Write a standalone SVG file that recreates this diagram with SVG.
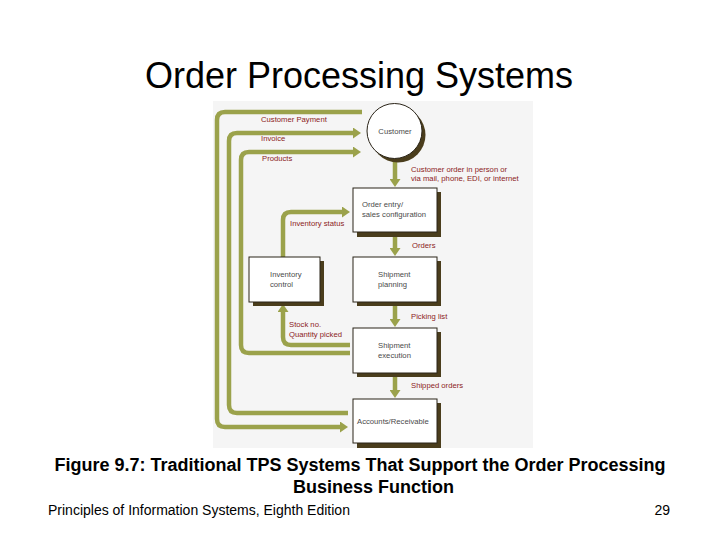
<svg xmlns="http://www.w3.org/2000/svg" width="720" height="540" viewBox="0 0 720 540">
<defs>
<marker id="ah" markerUnits="userSpaceOnUse" markerWidth="9" markerHeight="11" refX="1" refY="5.5" orient="auto">
<path d="M0,0 L8,5.5 L0,11 z" fill="#9ba24b"/>
</marker>
</defs>
<style>
.flow{fill:none;stroke:#9ba24b;stroke-width:4.5}
.arr{marker-end:url(#ah)}
.box{fill:#fff;stroke:#2a2418;stroke-width:1}
.shadow{fill:#4a3d1c}
.bt{font-family:"Liberation Sans",Arial,sans-serif;font-size:7.7px;fill:#4a4a4a}
.lb{font-family:"Liberation Sans",Arial,sans-serif;font-size:7.7px;fill:#8c1c1c}
</style>
<rect x="0" y="0" width="720" height="540" fill="#fff"/>
<text x="359" y="88" text-anchor="middle" font-family="'Liberation Sans',Arial,sans-serif" font-size="36" fill="#000">Order Processing Systems</text>
<rect x="213" y="101" width="320" height="347" fill="#f5f5f5"/>

<g id="connectors">
<path class="flow arr" d="M362 112 H225 Q217 112 217 120 V419 Q217 427 225 427 H341"/>
<path class="flow arr" d="M348 413 H237 Q229 413 229 405 V141 Q229 133 237 133 H354"/>
<path class="flow arr" d="M350 353 H249 Q241 353 241 345 V160 Q241 152 249 152 H354"/>
<path class="flow arr" d="M350 345 H291 Q283 345 283 337 V311"/>
<path class="flow arr" d="M283 257 V220 Q283 212 291 212 H343"/>
<path class="flow arr" d="M395 160 V180"/>
<path class="flow arr" d="M395 237 V249"/>
<path class="flow arr" d="M395 306 V320"/>
<path class="flow arr" d="M395 377 V391"/>
</g>

<g id="customer">
<circle cx="398" cy="135" r="27.5" class="shadow"/>
<circle cx="394.5" cy="131" r="27.5" fill="#fff" stroke="#2a2418" stroke-width="1"/>
<text x="395" y="134" text-anchor="middle" class="bt">Customer</text>
</g>

<g id="order-entry">
<rect x="357" y="192" width="84" height="45" class="shadow"/>
<rect x="353" y="188" width="84" height="44" class="box"/>
<text x="362" y="207" class="bt">Order entry/</text>
<text x="362" y="217" class="bt">sales configuration</text>
</g>

<g id="inventory-control">
<rect x="253" y="261" width="71" height="45" class="shadow"/>
<rect x="249" y="257" width="71" height="45" class="box"/>
<text x="270" y="277" class="bt">Inventory</text>
<text x="270" y="287" class="bt">control</text>
</g>

<g id="shipment-planning">
<rect x="357" y="261" width="84" height="45" class="shadow"/>
<rect x="353" y="257" width="84" height="45" class="box"/>
<text x="378" y="277" class="bt">Shipment</text>
<text x="378" y="287" class="bt">planning</text>
</g>

<g id="shipment-execution">
<rect x="357" y="332" width="84" height="45" class="shadow"/>
<rect x="353" y="328" width="84" height="45" class="box"/>
<text x="378" y="348" class="bt">Shipment</text>
<text x="378" y="358" class="bt">execution</text>
</g>

<g id="accounts-receivable">
<rect x="357" y="403" width="84" height="45" class="shadow"/>
<rect x="353" y="399" width="84" height="44" class="box"/>
<text x="357" y="424" class="bt">Accounts/Receivable</text>
</g>

<g id="labels">
<text x="261" y="122" class="lb">Customer Payment</text>
<text x="261" y="141" class="lb">Invoice</text>
<text x="262" y="161" class="lb">Products</text>
<text x="411" y="172" class="lb">Customer order in person or</text>
<text x="411" y="181" class="lb">via mail, phone, EDI, or internet</text>
<text x="290" y="226" class="lb">Inventory status</text>
<text x="412" y="248" class="lb">Orders</text>
<text x="411" y="319" class="lb">Picking list</text>
<text x="289" y="327" class="lb">Stock no.</text>
<text x="289" y="337" class="lb">Quantity picked</text>
<text x="411" y="388" class="lb">Shipped orders</text>
</g>

<text x="360" y="471" text-anchor="middle" font-family="'Liberation Sans',Arial,sans-serif" font-size="18" font-weight="bold" fill="#000">Figure 9.7: Traditional TPS Systems That Support the Order Processing</text>
<text x="373.5" y="493" text-anchor="middle" font-family="'Liberation Sans',Arial,sans-serif" font-size="18" font-weight="bold" fill="#000">Business Function</text>
<text x="48" y="515" font-family="'Liberation Sans',Arial,sans-serif" font-size="14" fill="#000">Principles of Information Systems, Eighth Edition</text>
<text x="670" y="515" text-anchor="end" font-family="'Liberation Sans',Arial,sans-serif" font-size="14" fill="#000">29</text>
</svg>
